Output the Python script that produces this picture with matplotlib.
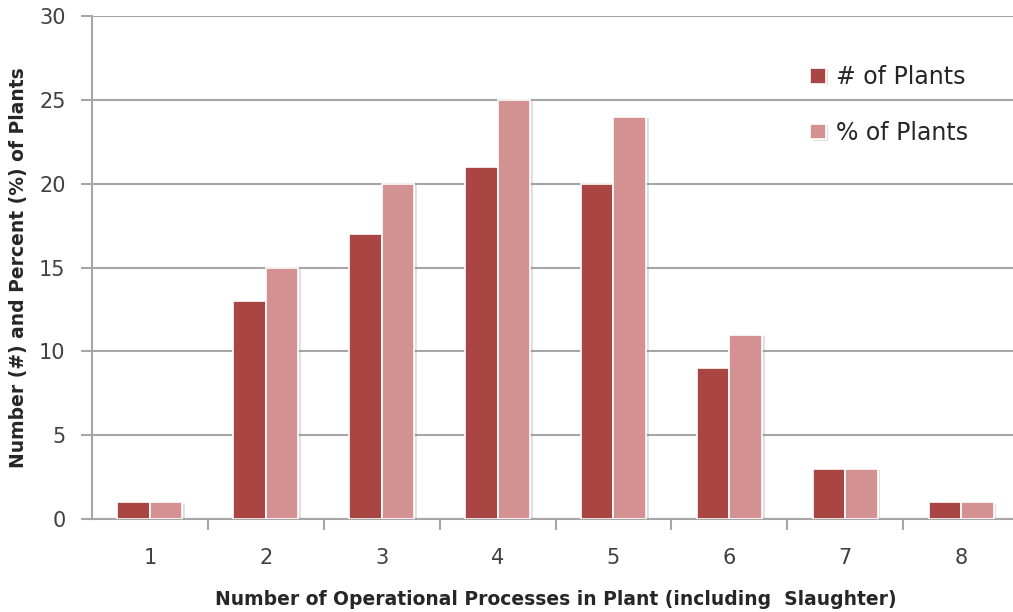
import numpy as np
import matplotlib
matplotlib.use("Agg")
import matplotlib.pyplot as plt
import matplotlib.patheffects as pe

# data
categories = ["1", "2", "3", "4", "5", "6", "7", "8"]
num_plants = [1, 13, 17, 21, 20, 9, 3, 1]
pct_plants = [1, 15, 20, 25, 24, 11, 3, 1]

dark = "#a94543"
light = "#d39291"
grid_col = "#a6a6a6"

plt.rcParams['font.family'] = ['DejaVu Sans']

fig = plt.figure(figsize=(10.13, 6.12), dpi=100)
ax = fig.add_axes([92/1013, 93/612, 927/1013, 503/612])

x = np.arange(len(categories))
w = 0.28
shadow = [pe.withSimplePatchShadow(offset=(2, -1), shadow_rgbFace="#888888", alpha=0.25)]
b1 = ax.bar(x - w/2, num_plants, w, color=dark, edgecolor="white", linewidth=1.2,
            label="# of Plants", zorder=3)
b2 = ax.bar(x + w/2, pct_plants, w, color=light, edgecolor="white", linewidth=1.2,
            label="% of Plants", zorder=3)
for b in list(b1) + list(b2):
    b.set_path_effects(shadow)

ax.set_xlim(-0.5, len(categories) - 0.5)
ax.set_ylim(0, 30)
ax.set_yticks(range(0, 31, 5))
ax.yaxis.grid(True, color=grid_col, linewidth=1.5, zorder=0)
ax.set_axisbelow(True)

# category labels centred, ticks between categories
ax.set_xticks(x)
ax.set_xticklabels(categories)
ax.tick_params(axis='x', length=0, pad=21, labelsize=15, colors="#404040")
ax.set_xticks(np.arange(0.5, len(categories) - 0.5, 1), minor=True)
ax.tick_params(axis='x', which='minor', length=8, width=1.5, color=grid_col)
ax.tick_params(axis='y', length=8, width=1.5, color=grid_col, labelsize=15,
               labelcolor="#404040", pad=11)

for s in ["top", "right"]:
    ax.spines[s].set_visible(False)
for s in ["left", "bottom"]:
    ax.spines[s].set_color(grid_col)
    ax.spines[s].set_linewidth(1.5)

ax.set_xlabel("Number of Operational Processes in Plant (including  Slaughter)",
              fontsize=13.5, fontweight="bold", color="#262626", labelpad=16)
ax.set_ylabel("Number (#) and Percent (%) of Plants", fontsize=13.5,
              fontweight="bold", color="#262626", labelpad=8)

leg = ax.legend(loc="upper left", bbox_to_anchor=(0.752, 0.945), frameon=False,
                fontsize=17, handlelength=0.65, handleheight=0.65, handletextpad=0.45,
                labelspacing=1.35)
for t in leg.get_texts():
    t.set_color("#262626")

fig.savefig("out.png", dpi=100)
